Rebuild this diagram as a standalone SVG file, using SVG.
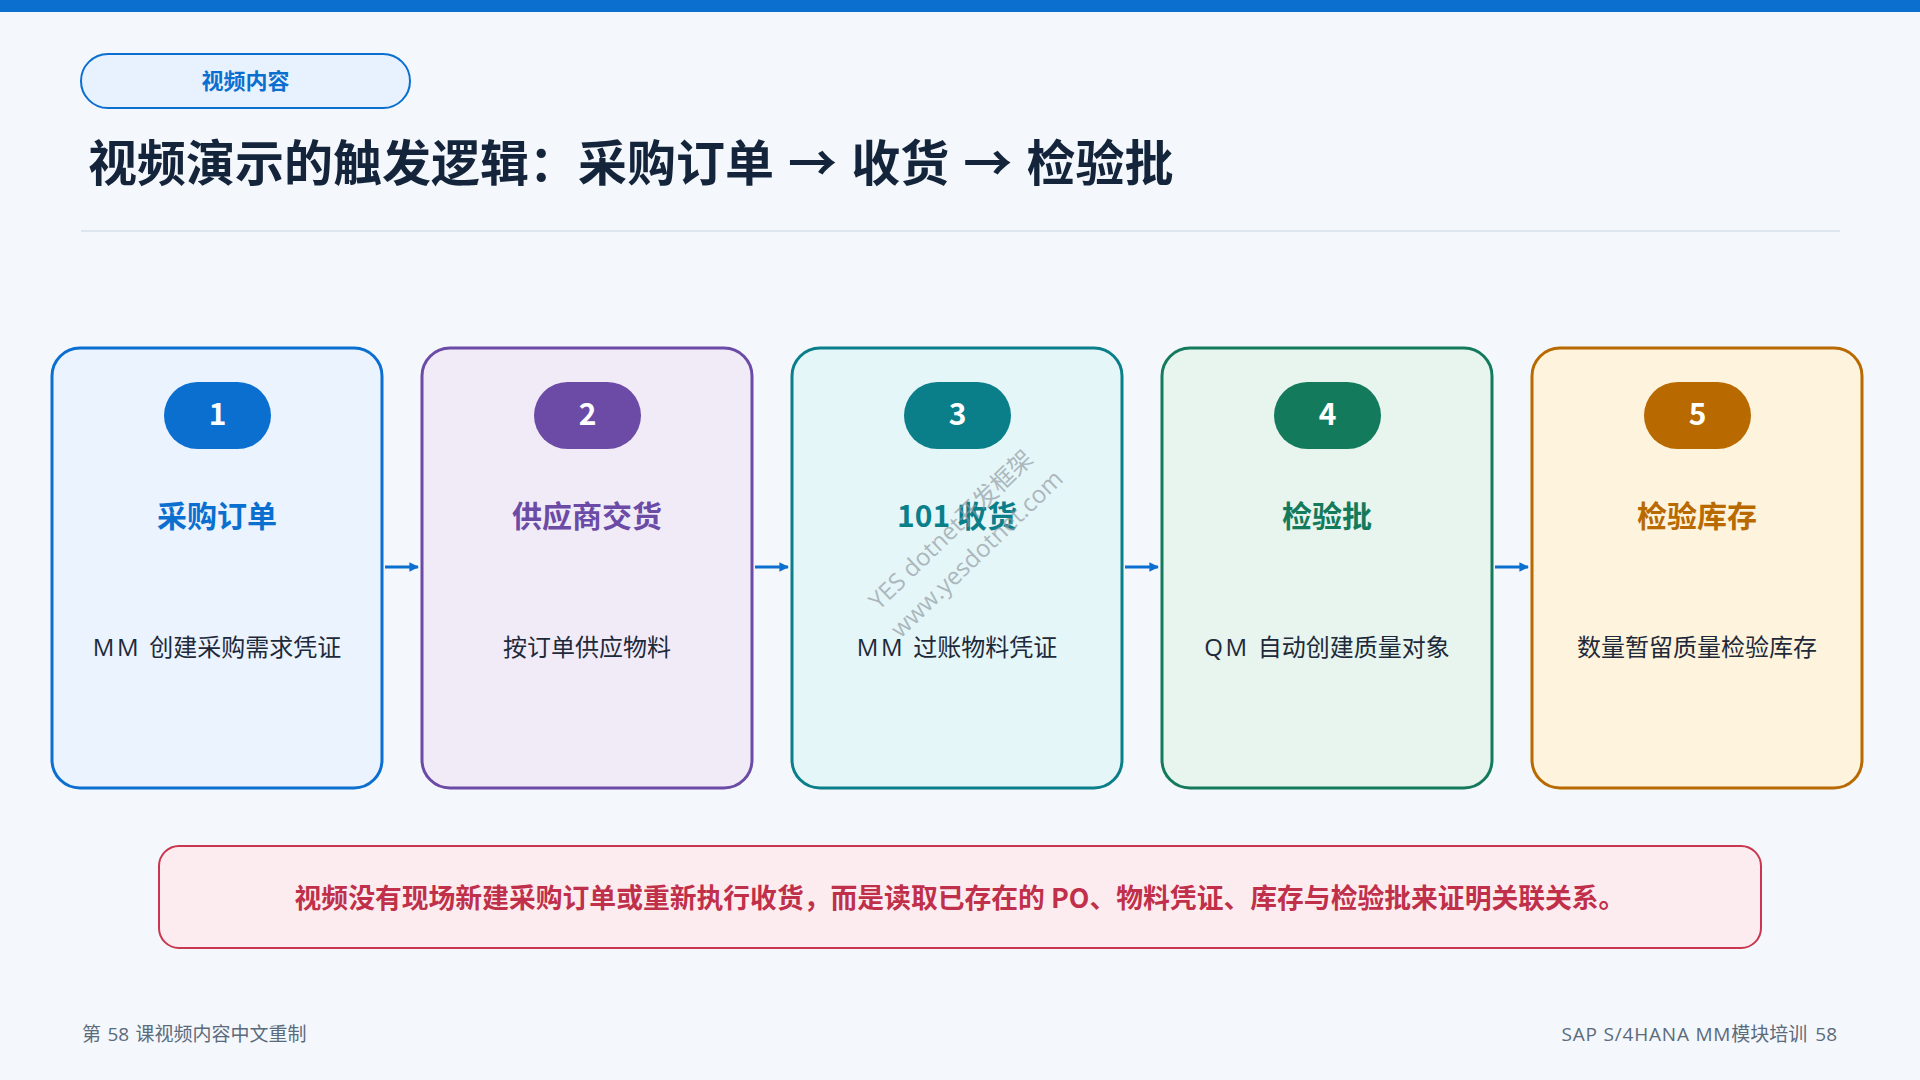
<svg xmlns="http://www.w3.org/2000/svg" width="1920" height="1080" viewBox="0 0 1920 1080">
<defs>
<style>
.cjk{font-family:"Noto Sans CJK SC","Noto Sans",sans-serif}
.lat{font-family:"Open Sans","Noto Sans CJK SC",sans-serif}
.card{stroke-width:3}
.badge-t{font-size:30px;font-weight:700;fill:#ffffff;text-anchor:middle}
.ttl{font-size:30px;font-weight:700;text-anchor:middle}
.desc{font-size:24px;fill:#1e2a3a;text-anchor:middle;word-spacing:2px}
.ls{letter-spacing:2.5px}
.conn{stroke:#0b6fd0;stroke-width:3;fill:none}
.wm{font-size:24px;fill:#8f969e;opacity:0.65;text-anchor:middle}
.foot{font-size:19px;fill:#5b6b7c}
</style>
<marker id="ah" viewBox="0 0 10 10" refX="9" refY="5" markerWidth="3.2" markerHeight="3.2" orient="auto" markerUnits="strokeWidth">
<path d="M0,0 L10,5 L0,10 z" fill="#0b6fd0"/>
</marker>
</defs>
<rect x="0" y="0" width="1920" height="1080" fill="#f4f7fb"/>
<rect x="0" y="0" width="1920" height="12" fill="#0b6fd0"/>

<g id="tag">
<rect x="81" y="54" width="329" height="54" rx="27" fill="#e8f2fe" stroke="#0b6fd0" stroke-width="2"/>
<text class="cjk" x="245.5" y="89" font-size="22" font-weight="700" fill="#0b6fd0" text-anchor="middle">视频内容</text>
</g>

<g id="title">
<text class="cjk" x="88" y="181" font-size="49" font-weight="700" fill="#14243b" word-spacing="3">视频演示的触发逻辑：采购订单 → 收货 → 检验批</text>
<line x1="81" y1="231" x2="1840" y2="231" stroke="#dde5ee" stroke-width="2"/>
</g>

<g id="connectors">
<line class="conn" x1="385" y1="567" x2="418" y2="567" marker-end="url(#ah)"/>
<line class="conn" x1="755" y1="567" x2="788" y2="567" marker-end="url(#ah)"/>
<line class="conn" x1="1125" y1="567" x2="1158" y2="567" marker-end="url(#ah)"/>
<line class="conn" x1="1495" y1="567" x2="1528" y2="567" marker-end="url(#ah)"/>
</g>

<g id="step1">
<rect class="card" x="52" y="348" width="330" height="440" rx="28" fill="#eaf3fe" stroke="#0b6fd0"/>
<rect x="164" y="382" width="107" height="67" rx="33.5" fill="#0b6fd0"/>
<text class="cjk badge-t" x="217.5" y="425">1</text>
<text class="cjk ttl" x="217" y="527" fill="#0b6fd0">采购订单</text>
<text class="lat desc" x="217" y="656"><tspan class="ls">MM</tspan> 创建采购需求凭证</text>
</g>

<g id="step2">
<rect class="card" x="422" y="348" width="330" height="440" rx="28" fill="#f1ebf8" stroke="#6b4ba6"/>
<rect x="534" y="382" width="107" height="67" rx="33.5" fill="#6b4ba6"/>
<text class="cjk badge-t" x="587.5" y="425">2</text>
<text class="cjk ttl" x="587" y="527" fill="#6b4ba6">供应商交货</text>
<text class="lat desc" x="587" y="656">按订单供应物料</text>
</g>

<g id="step3">
<rect class="card" x="792" y="348" width="330" height="440" rx="28" fill="#e5f6f8" stroke="#0a7f8a"/>
<rect x="904" y="382" width="107" height="67" rx="33.5" fill="#0a7f8a"/>
<text class="cjk badge-t" x="957.5" y="425">3</text>
<text class="cjk ttl" x="957" y="527" fill="#0a7f8a">101 收货</text>
<text class="lat desc" x="957" y="656"><tspan class="ls">MM</tspan> 过账物料凭证</text>
</g>

<g id="step4">
<rect class="card" x="1162" y="348" width="330" height="440" rx="28" fill="#e7f5ee" stroke="#147a5c"/>
<rect x="1274" y="382" width="107" height="67" rx="33.5" fill="#147a5c"/>
<text class="cjk badge-t" x="1327.5" y="425">4</text>
<text class="cjk ttl" x="1327" y="527" fill="#147a5c">检验批</text>
<text class="lat desc" x="1327" y="656"><tspan class="ls">QM</tspan> 自动创建质量对象</text>
</g>

<g id="step5">
<rect class="card" x="1532" y="348" width="330" height="440" rx="28" fill="#fef3dc" stroke="#b86a00"/>
<rect x="1644" y="382" width="107" height="67" rx="33.5" fill="#b86a00"/>
<text class="cjk badge-t" x="1697.5" y="425">5</text>
<text class="cjk ttl" x="1697" y="527" fill="#b86a00">检验库存</text>
<text class="lat desc" x="1697" y="656">数量暂留质量检验库存</text>
</g>

<g id="watermark">
<text class="lat wm" x="951" y="538" transform="rotate(-44 951 530)">YES dotnet开发框架</text>
<text class="lat wm" x="977" y="562" transform="rotate(-44 977 554)">www.yesdotnet.com</text>
</g>

<g id="note">
<rect x="159" y="846" width="1602" height="102" rx="20" fill="#fdecef" stroke="#c8364f" stroke-width="2"/>
<text class="cjk" x="960" y="908" font-size="26.8" font-weight="700" fill="#c0304a" text-anchor="middle">视频没有现场新建采购订单或重新执行收货，而是读取已存在的 PO、物料凭证、库存与检验批来证明关联关系。</text>
</g>

<g id="footer">
<text class="lat foot" x="82" y="1041" word-spacing="1.5">第 58 课视频内容中文重制</text>
<text class="lat foot" x="1837" y="1041" text-anchor="end"><tspan letter-spacing="0.8">SAP S/4HANA MM</tspan>模块培训<tspan dx="8">58</tspan></text>
</g>
</svg>
